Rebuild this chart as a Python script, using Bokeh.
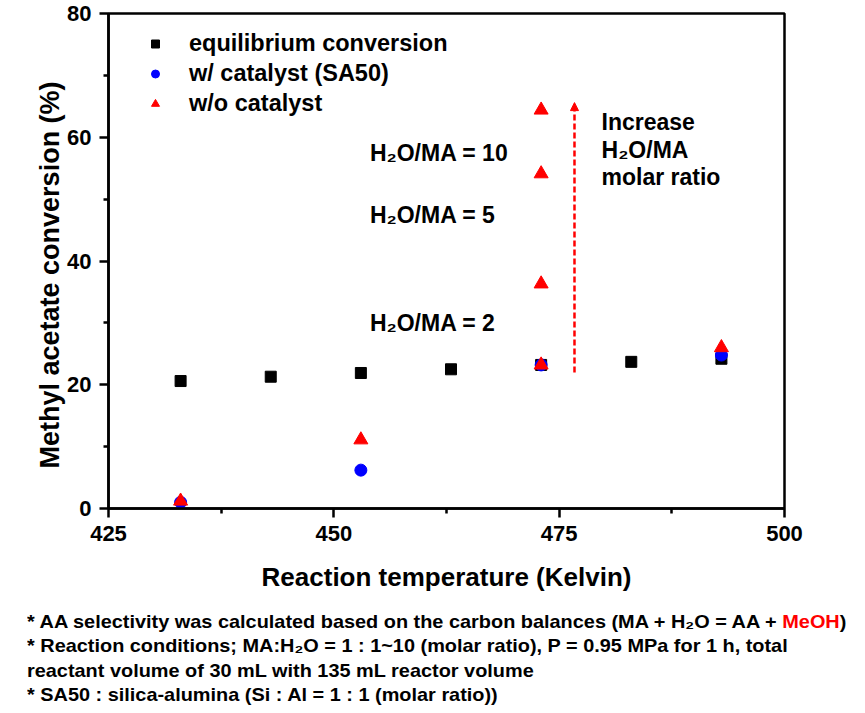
from bokeh.plotting import figure
from bokeh.models import (Label, Arrow, NormalHead, Legend, LegendItem,
                          FixedTicker, Range1d, Title, Div)
from bokeh.layouts import column
from bokeh.embed import file_html
from bokeh.resources import INLINE

# ---------------- data ----------------
temp_eq = [433, 443, 453, 463, 473, 483, 493]
conv_eq = [20.6, 21.3, 21.9, 22.5, 23.2, 23.7, 24.2]

temp_cat = [433, 453, 473, 493]
conv_cat = [1.0, 6.2, 23.2, 24.8]

temp_nocat = [433, 453, 473, 473, 473, 473, 493]
conv_nocat = [1.2, 11.1, 23.2, 36.3, 54.1, 64.4, 26.0]

x_ticks = [425, 450, 475, 500]
x_minor = [437.5, 462.5, 487.5]
y_ticks = [0, 20, 40, 60, 80]
y_minor = [10, 30, 50, 70]

x_label = "Reaction temperature (Kelvin)"
y_label = "Methyl acetate conversion (%)"

legend_labels = ["equilibrium conversion", "w/ catalyst (SA50)", "w/o catalyst"]

ratio_labels = ["H\u2082O/MA = 10", "H\u2082O/MA = 5", "H\u2082O/MA = 2"]
ratio_label_y = [57.5, 47.4, 29.9]
ratio_label_x = 454.0

arrow_x = 476.7
arrow_y0 = 22.0
arrow_y1 = 65.6

note_lines = ["Increase", "H\u2082O/MA", "molar ratio"]
note_y = [62.4, 58.0, 53.5]
note_x = 479.7

foot1_main = "* AA selectivity was calculated based on the carbon balances (MA + H\u2082O = AA + "
foot1_red = "MeOH"
foot1_end = ")"
foot_rest = ["* Reaction conditions; MA:H\u2082O = 1 : 1~10 (molar ratio), P = 0.95 MPa for 1 h, total",
             "reactant volume of 30 mL with 135 mL reactor volume",
             "* SA50 : silica-alumina (Si : Al = 1 : 1 (molar ratio))"]

# ---------------- main figure ----------------
FONT = "Liberation Sans"
W = 860
H1 = 600
p = figure(width=W, height=H1, output_backend="svg", toolbar_location=None,
           x_range=Range1d(425, 500), y_range=Range1d(0, 80),
           min_border_left=108, min_border_right=W - 784,
           min_border_top=13, min_border_bottom=H1 - 508)
p.xgrid.visible = False
p.ygrid.visible = False
p.background_fill_color = "white"
p.border_fill_color = "white"
p.outline_line_color = "black"
p.outline_line_width = 2.5
p.outline_line_alpha = 1.0

for ax in (p.xaxis[0], p.yaxis[0]):
    ax.axis_line_width = 2.5
    ax.axis_line_color = "black"
    ax.major_tick_line_width = 2.5
    ax.minor_tick_line_width = 2.5
    ax.major_tick_in = 0
    ax.major_tick_out = 9
    ax.minor_tick_in = 0
    ax.minor_tick_out = 5
    ax.major_label_text_font = FONT
    ax.major_label_text_font_style = "bold"
    ax.major_label_text_font_size = "22px"
    ax.major_label_text_color = "black"
    ax.axis_label_text_font = FONT
    ax.axis_label_text_font_style = "bold"
    ax.axis_label_text_font_size = "26px"
    ax.axis_label_text_color = "black"

p.xaxis[0].ticker = FixedTicker(ticks=x_ticks, minor_ticks=x_minor)
p.yaxis[0].ticker = FixedTicker(ticks=y_ticks, minor_ticks=y_minor)
p.xaxis[0].axis_label = x_label
p.xaxis[0].major_label_standoff = 8
p.yaxis[0].major_label_standoff = 8
p.xaxis[0].axis_label_standoff = 18

# y-axis title, placed as a side title so it can sit slightly below centre
p.add_layout(Title(text=y_label, align="left", offset=40, standoff=0,
                   text_font=FONT, text_font_style="bold",
                   text_font_size="27px", text_color="black"), "left")

r_eq = p.scatter(temp_eq, conv_eq, marker="square", size=11,
                 fill_color="black", line_color="black")
r_cat = p.scatter(temp_cat, conv_cat, marker="circle", size=12,
                  fill_color="#0000FF", line_color="#0000FF")
r_no = p.scatter(temp_nocat, conv_nocat, marker="triangle", size=14,
                 fill_color="#FF0000", line_color="#FF0000")

legend = Legend(items=[LegendItem(label=legend_labels[0], renderers=[r_eq]),
                       LegendItem(label=legend_labels[1], renderers=[r_cat]),
                       LegendItem(label=legend_labels[2], renderers=[r_no])],
                location=(37, 391.5), padding=0, margin=0, spacing=3,
                label_height=27, glyph_height=27, glyph_width=20,
                label_standoff=24, border_line_color=None,
                background_fill_alpha=0,
                label_text_font=FONT, label_text_font_style="bold",
                label_text_font_size="23.5px", label_text_color="black")
p.add_layout(legend)

for t, yy in zip(ratio_labels, ratio_label_y):
    p.add_layout(Label(x=ratio_label_x, y=yy, text=t, text_font=FONT,
                       text_font_style="bold", text_font_size="23px",
                       text_baseline="middle", text_align="left",
                       text_color="black"))

for t, yy in zip(note_lines, note_y):
    p.add_layout(Label(x=note_x, y=yy, text=t, text_font=FONT,
                       text_font_style="bold", text_font_size="23px",
                       text_baseline="middle", text_align="left",
                       text_color="black"))

p.add_layout(Arrow(end=NormalHead(size=8, fill_color="red", line_color="red"),
                   x_start=arrow_x, y_start=arrow_y0, x_end=arrow_x, y_end=arrow_y1,
                   line_color="red", line_width=2.5, line_dash="6 3"))

# ---------------- footnotes ----------------
foot_html = (
    '<div style="padding-left:27px; padding-top:10px;">'
    '<div style="font-family:\'Liberation Sans\', Arial, sans-serif; font-weight:bold; '
    'font-size:19px; line-height:24.3px; color:black; white-space:nowrap; '
    'transform:scaleX(1.047); transform-origin:0 0;">'
    + foot1_main + '<span style="color:#FF0000">' + foot1_red + '</span>' + foot1_end
    + '<br>' + '<br>'.join(foot_rest) +
    '</div></div>'
)
notes = Div(text=foot_html, width=W, height=110, margin=(0, 0, 0, 0))

layout = column(p, notes, spacing=0)
open("out.html", "w").write(file_html(layout, INLINE))
